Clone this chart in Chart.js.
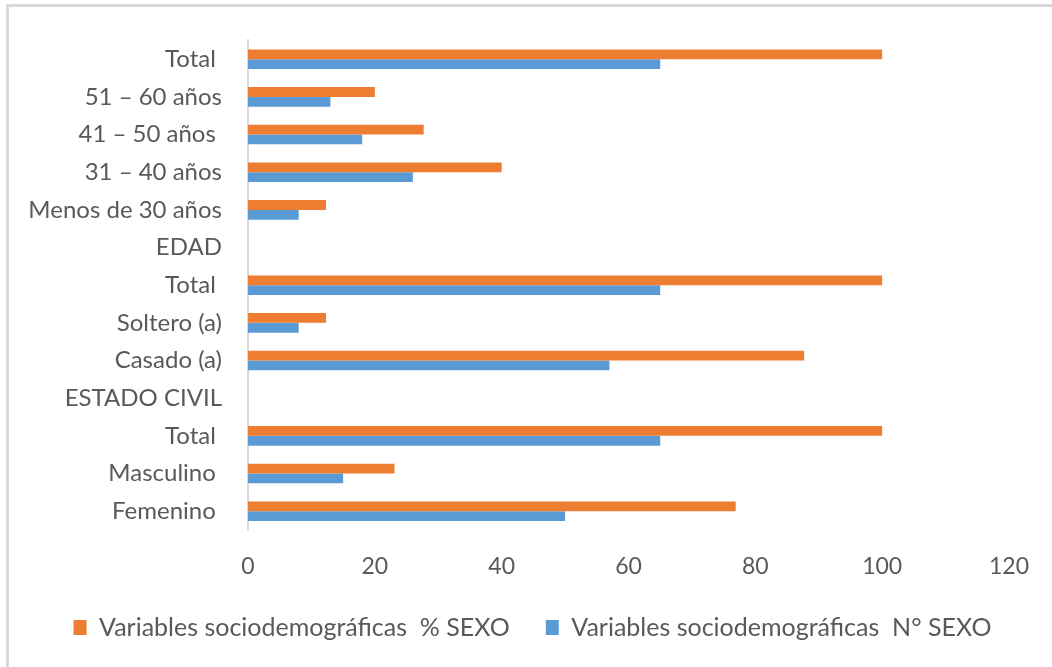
<!DOCTYPE html>
<html>
<head>
<meta charset="utf-8">
<script src="https://cdn.jsdelivr.net/npm/chart.js@4.4.1/dist/chart.umd.min.js"></script>
<style>
  html, body { margin: 0; padding: 0; background: #ffffff; }
  #wrap { position: relative; width: 1052px; height: 667px; }
  canvas { display: block; }
</style>
</head>
<body>
<div id="wrap"><canvas id="chart" width="1052" height="667"></canvas></div>
<script>
// Categories, listed from top to bottom as they appear on the vertical axis
const categories = [
  'Total ', '51 – 60 años', '41 – 50 años ', '31 – 40 años', 'Menos de 30 años',
  'EDAD', 'Total ', 'Soltero (a)', 'Casado (a)', 'ESTADO CIVIL',
  'Total ', 'Masculino ', 'Femenino '
];

// Percentage per category (group headers have no value)
const pctSexo = [100, 20, 27.7, 40, 12.3, null, 100, 12.3, 87.7, null, 100, 23.1, 76.9];

// Counts per category
const nSexo = [65, 13, 18, 26, 8, null, 65, 8, 57, null, 65, 15, 50];

const xTicks = [0, 20, 40, 60, 80, 100, 120];

const seriesNames = [
  'Variables sociodemográficas  % SEXO',
  'Variables sociodemográficas  N° SEXO'
];

const FONT = 'Lato';
const TEXT = '#595959';

// Light frame along the top and left edges of the figure
const framePlugin = {
  id: 'frame',
  beforeDraw(chart) {
    const ctx = chart.ctx;
    ctx.save();
    ctx.fillStyle = '#d9d9d9';
    ctx.fillRect(6, 4, chart.width - 6, 3);
    ctx.fillRect(6, 4, 3, chart.height - 4);
    ctx.restore();
  }
};

// Nudge the legend row so it sits centred under the whole figure
const legendShift = {
  id: 'legendShift',
  afterLayout(chart) {
    const lg = chart.legend;
    if (lg) { lg.left += 25; lg.right += 25; }
  }
};

new Chart(document.getElementById('chart'), {
  type: 'bar',
  data: {
    labels: categories,
    datasets: [
      {
        label: seriesNames[0],
        data: pctSexo,
        backgroundColor: '#ED7D31',
        categoryPercentage: 0.52,
        barPercentage: 1.0
      },
      {
        label: seriesNames[1],
        data: nSexo,
        backgroundColor: '#5B9BD5',
        categoryPercentage: 0.52,
        barPercentage: 1.0
      }
    ]
  },
  plugins: [framePlugin, legendShift],
  options: {
    indexAxis: 'y',
    responsive: false,
    animation: false,
    layout: { padding: { top: 38, right: 37, bottom: 17, left: 0 } },
    scales: {
      x: {
        min: 0,
        max: 120,
        afterBuildTicks(scale) { scale.ticks = xTicks.map(v => ({ value: v })); },
        grid: { display: false, drawTicks: false },
        border: { display: false },
        ticks: {
          color: TEXT,
          font: { family: FONT, size: 23 },
          padding: 23,
          maxRotation: 0
        },
        afterFit(scale) { scale.height = 49; }
      },
      y: {
        grid: { display: false, drawTicks: false },
        border: { display: true, color: '#d9d9d9', width: 2 },
        ticks: {
          color: TEXT,
          font: { family: FONT, size: 24 },
          padding: 26,
          autoSkip: false
        },
        afterFit(scale) { scale.width = 248; }
      }
    },
    plugins: {
      legend: {
        position: 'bottom',
        labels: {
          color: TEXT,
          font: { family: FONT, size: 25 },
          boxWidth: 13,
          boxHeight: 15,
          padding: 36
        }
      },
      tooltip: { enabled: false }
    }
  }
});
</script>
</body>
</html>
